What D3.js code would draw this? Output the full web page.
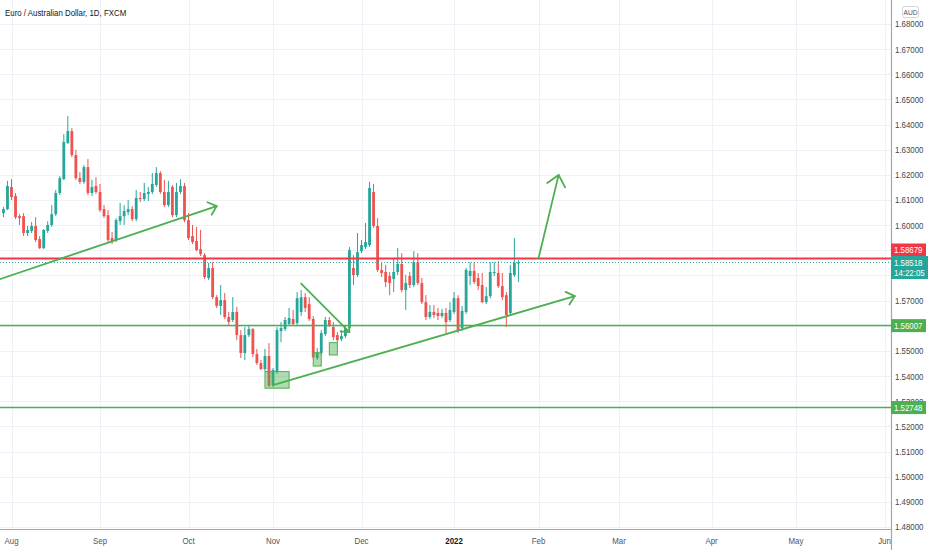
<!DOCTYPE html>
<html>
<head>
<meta charset="utf-8">
<style>
  body { margin: 0; background: #fff; }
  svg { display: block; font-family: "Liberation Sans", Arial, sans-serif; }
</style>
</head>
<body>
<script src="https://d3js.org/d3.v7.min.js"></script>
<script>
// daily EUR/AUD bars, one per weekday starting at firstBar
var firstBar = "2021-07-29";
var opens = [1.6048,1.6064,1.6152,1.6116,1.6036,1.6036,1.5969,1.5977,1.5997,1.5945,1.5909,1.5977,1.6001,1.6044,1.6128,1.6183,1.6327,1.6374,1.6279,1.6187,
  1.6172,1.6231,1.6128,1.6156,1.6132,1.6064,1.6040,1.5949,1.5941,1.6016,1.6036,1.6052,1.6064,1.6024,1.6108,1.6104,1.6124,1.6132,1.6160,1.6207,
  1.6132,1.6080,1.6152,1.6040,1.6132,1.6156,1.6020,1.5957,1.5937,1.5905,1.5881,1.5790,1.5830,1.5714,1.5679,1.5702,1.5635,1.5623,1.5655,1.5563,
  1.5492,1.5563,1.5587,1.5488,1.5452,1.5428,1.5480,1.5364,1.5416,1.5579,1.5587,1.5607,1.5627,1.5611,1.5655,1.5714,1.5686,1.5627,1.5472,1.5492,
  1.5567,1.5623,1.5595,1.5563,1.5547,1.5559,1.5591,1.5830,1.5802,1.5897,1.5913,1.5921,1.6132,1.5997,1.5822,1.5814,1.5798,1.5786,1.5814,1.5846,
  1.5742,1.5798,1.5762,1.5853,1.5770,1.5694,1.5635,1.5655,1.5651,1.5639,1.5651,1.5623,1.5655,1.5710,1.5591,1.5655,1.5798,1.5818,1.5790,1.5762,
  1.5694,1.5718,1.5810,1.5810,1.5758,1.5722,1.5651,1.5802,1.5850];
var highs = [1.6072,1.6176,1.6183,1.6128,1.6044,1.6048,1.5997,1.6013,1.6032,1.5957,1.5985,1.6016,1.6080,1.6140,1.6195,1.6362,1.6434,1.6386,1.6299,1.6211,
  1.6239,1.6263,1.6180,1.6191,1.6164,1.6080,1.6060,1.5973,1.6028,1.6088,1.6080,1.6100,1.6076,1.6140,1.6132,1.6168,1.6152,1.6207,1.6231,1.6215,
  1.6180,1.6176,1.6160,1.6168,1.6183,1.6168,1.6048,1.6001,1.5993,1.5981,1.5889,1.5850,1.5853,1.5722,1.5762,1.5730,1.5655,1.5714,1.5675,1.5583,
  1.5595,1.5599,1.5591,1.5508,1.5464,1.5508,1.5531,1.5432,1.5595,1.5615,1.5635,1.5671,1.5663,1.5734,1.5742,1.5730,1.5714,1.5639,1.5512,1.5583,
  1.5635,1.5635,1.5615,1.5575,1.5583,1.5603,1.5913,1.5881,1.5969,1.5941,1.6009,1.6172,1.6164,1.6028,1.5853,1.5842,1.5814,1.5869,1.5909,1.5889,
  1.5802,1.5814,1.5897,1.5889,1.5790,1.5722,1.5683,1.5683,1.5671,1.5667,1.5671,1.5694,1.5734,1.5722,1.5679,1.5830,1.5853,1.5853,1.5810,1.5810,
  1.5754,1.5853,1.5853,1.5857,1.5810,1.5734,1.5842,1.5949,1.5862];
var lows = [1.6032,1.6060,1.6100,1.6024,1.6001,1.5957,1.5957,1.5969,1.5933,1.5905,1.5905,1.5969,1.5993,1.6036,1.6120,1.6180,1.6323,1.6271,1.6180,1.6164,
  1.6164,1.6120,1.6116,1.6124,1.6052,1.6028,1.5933,1.5925,1.5933,1.6001,1.6001,1.6040,1.6016,1.6016,1.6092,1.6096,1.6096,1.6124,1.6152,1.6124,
  1.6072,1.6072,1.6032,1.6032,1.6124,1.6012,1.5941,1.5925,1.5897,1.5877,1.5786,1.5782,1.5706,1.5671,1.5643,1.5627,1.5603,1.5615,1.5543,1.5472,
  1.5464,1.5555,1.5476,1.5444,1.5424,1.5420,1.5357,1.5357,1.5408,1.5535,1.5579,1.5603,1.5599,1.5603,1.5639,1.5655,1.5619,1.5468,1.5464,1.5484,
  1.5559,1.5595,1.5543,1.5535,1.5539,1.5551,1.5579,1.5762,1.5794,1.5889,1.5905,1.5913,1.5989,1.5814,1.5794,1.5754,1.5722,1.5734,1.5802,1.5734,
  1.5663,1.5750,1.5754,1.5762,1.5686,1.5623,1.5627,1.5631,1.5623,1.5631,1.5571,1.5615,1.5647,1.5571,1.5579,1.5647,1.5762,1.5766,1.5742,1.5690,
  1.5686,1.5710,1.5798,1.5750,1.5702,1.5595,1.5643,1.5794,1.5774];
var closes = [1.6064,1.6156,1.6112,1.6032,1.6028,1.5969,1.5981,1.5997,1.5941,1.5909,1.5981,1.6001,1.6044,1.6128,1.6187,1.6331,1.6374,1.6279,1.6187,1.6172,
  1.6231,1.6128,1.6152,1.6132,1.6060,1.6036,1.5941,1.5937,1.6020,1.6036,1.6056,1.6064,1.6024,1.6108,1.6104,1.6128,1.6132,1.6164,1.6207,1.6132,
  1.6080,1.6132,1.6040,1.6132,1.6156,1.6020,1.5949,1.5933,1.5901,1.5885,1.5794,1.5830,1.5714,1.5679,1.5702,1.5635,1.5615,1.5655,1.5563,1.5492,
  1.5563,1.5587,1.5488,1.5452,1.5428,1.5480,1.5361,1.5424,1.5583,1.5591,1.5623,1.5631,1.5607,1.5710,1.5714,1.5671,1.5627,1.5476,1.5492,1.5571,
  1.5623,1.5603,1.5555,1.5543,1.5559,1.5591,1.5901,1.5802,1.5893,1.5921,1.5933,1.6148,1.5997,1.5822,1.5810,1.5774,1.5770,1.5814,1.5846,1.5742,
  1.5770,1.5762,1.5853,1.5770,1.5694,1.5635,1.5655,1.5643,1.5639,1.5651,1.5615,1.5663,1.5710,1.5583,1.5659,1.5822,1.5818,1.5774,1.5758,1.5694,
  1.5718,1.5814,1.5814,1.5758,1.5714,1.5643,1.5810,1.5850,1.58518];

// price ticks; the ones sitting under a price label are not drawn
var priceTicks = [1.48,1.49,1.50,1.51,1.52,1.53,1.54,1.55,1.56,1.57,1.58,1.59,1.60,1.61,1.62,1.63,1.64,1.65,1.66,1.67,1.68];
var coveredTicks = [1.56, 1.58, 1.59];
var monthStarts = ["2021-08-02","2021-09-01","2021-10-01","2021-11-01","2021-12-01","2022-01-03","2022-02-01","2022-03-01","2022-04-01","2022-05-02","2022-06-01"];
var monthLabels = ["Aug","Sep","Oct","Nov","Dec","2022","Feb","Mar","Apr","May","Jun"];

var title = "Euro / Australian Dollar, 1D, FXCM";
var redLevel = 1.58679;
var greenLevels = [1.56007, 1.52748];
var lastPrice = 1.58518;
var countdown = "14:22:05";

// drawings: [start date, start price, end date, end price, arrow size]
var trendLines = [
  ["2021-07-28", 1.5785, "2021-10-12", 1.6076, 10],
  ["2021-11-01", 1.5364, "2022-02-14", 1.5718, 10],
  ["2021-11-10", 1.5768, "2021-11-26", 1.5575, 9],
  ["2022-02-01", 1.5868, "2022-02-08", 1.6200, 14]
];
// boxes: [left date, right date, top price, bottom price]
var boxes = [
  ["2021-10-28", "2021-11-05", 1.5418, 1.5352],
  ["2021-11-15", "2021-11-17", 1.5493, 1.5440],
  ["2021-11-19", "2021-11-23", 1.5533, 1.5484]
];

var W = 932, H = 550, axisX = 891, axisY = 529;
var up = "#26a69a", down = "#ef5350", green = "#4caf50", red = "#f23645";

// trading-day calendar (weekdays)
var parse = d3.utcParse("%Y-%m-%d"), fmt = d3.utcFormat("%Y-%m-%d");
var days = d3.utcDay.range(parse("2021-07-19"), parse("2022-06-30"))
  .filter(d => d.getUTCDay() % 6 !== 0).map(fmt);
var pos = new Map(days.map((d, i) => [d, i]));
var x = d3.scaleLinear()
  .domain([pos.get("2021-08-02"), pos.get("2022-06-01")])
  .range([11.5, 884.5]);
var y = d3.scaleLinear().domain([1.48, 1.68]).range([527, 24]);
var xd = d => x(pos.get(d));

var startPos = pos.get(firstBar);
var bars = opens.map((o, k) => ({ i: startPos + k, o: o, h: highs[k], l: lows[k], c: closes[k] }));

var svg = d3.select("body").append("svg").attr("width", W).attr("height", H);
svg.append("rect").attr("width", W).attr("height", H).attr("fill", "#fff");
svg.append("clipPath").attr("id", "plot").append("rect").attr("width", axisX).attr("height", axisY);

function label(g, px, py, s, o) {
  o = o || {};
  return g.append("text")
    .attr("transform", "translate(" + px + "," + py + ") scale(0.83,1)")
    .attr("text-anchor", o.anchor || "start")
    .attr("font-size", o.size || 9.5)
    .attr("font-weight", o.weight || null)
    .attr("fill", o.color || "#131722")
    .text(s);
}

var plot = svg.append("g").attr("clip-path", "url(#plot)");

// grid
plot.selectAll(".hg").data(priceTicks).enter().append("line")
  .attr("x1", 0).attr("x2", axisX)
  .attr("y1", d => Math.round(y(d)) + 0.5).attr("y2", d => Math.round(y(d)) + 0.5)
  .attr("stroke", "#eef1f6").attr("stroke-width", 1);
plot.selectAll(".vg").data(monthStarts).enter().append("line")
  .attr("y1", 0).attr("y2", axisY)
  .attr("x1", d => Math.round(xd(d)) + 0.5).attr("x2", d => Math.round(xd(d)) + 0.5)
  .attr("stroke", "#eef1f6").attr("stroke-width", 1);

// candles
var cg = plot.append("g");
cg.selectAll(".wick").data(bars).enter().append("line")
  .attr("x1", d => x(d.i)).attr("x2", d => x(d.i))
  .attr("y1", d => y(d.h)).attr("y2", d => y(d.l))
  .attr("stroke", d => d.c >= d.o ? up : down).attr("stroke-width", 1);
cg.selectAll(".body").data(bars).enter().append("rect")
  .attr("x", d => x(d.i) - 1.4).attr("width", 2.8)
  .attr("y", d => y(Math.max(d.o, d.c)))
  .attr("height", d => Math.max(1, Math.abs(y(d.o) - y(d.c))))
  .attr("fill", d => d.c >= d.o ? up : down);

// boxes
plot.selectAll(".box").data(boxes).enter().append("rect")
  .attr("x", d => xd(d[0])).attr("width", d => xd(d[1]) - xd(d[0]))
  .attr("y", d => y(d[2])).attr("height", d => y(d[3]) - y(d[2]))
  .attr("fill", green).attr("fill-opacity", 0.45)
  .attr("stroke", green).attr("stroke-width", 1);

// horizontal levels
plot.append("line").attr("x1", 0).attr("x2", axisX)
  .attr("y1", y(lastPrice)).attr("y2", y(lastPrice))
  .attr("stroke", up).attr("stroke-width", 1).attr("stroke-dasharray", "1 2");
plot.append("line").attr("x1", 0).attr("x2", axisX)
  .attr("y1", y(redLevel)).attr("y2", y(redLevel))
  .attr("stroke", red).attr("stroke-width", 2);
plot.selectAll(".gl").data(greenLevels).enter().append("line")
  .attr("x1", 0).attr("x2", axisX)
  .attr("y1", d => y(d)).attr("y2", d => y(d))
  .attr("stroke", green).attr("stroke-width", 1.5);

// trend lines with open arrow heads
trendLines.forEach(t => {
  var x1 = xd(t[0]), y1 = y(t[1]), x2 = xd(t[2]), y2 = y(t[3]);
  var a = Math.atan2(y1 - y2, x1 - x2), s = t[4], sp = 0.72;
  var g = plot.append("g").attr("stroke", green).attr("stroke-width", 1.8)
    .attr("fill", "none").attr("stroke-linecap", "round").attr("stroke-linejoin", "round");
  g.append("line").attr("x1", x1).attr("y1", y1).attr("x2", x2).attr("y2", y2);
  g.append("path").attr("d", d3.line()([
    [x2 + s * Math.cos(a + sp), y2 + s * Math.sin(a + sp)],
    [x2, y2],
    [x2 + s * Math.cos(a - sp), y2 + s * Math.sin(a - sp)]
  ]));
});

// title
label(svg, 5, 16, title, { size: 9.5, color: "#131722" });

// axes frame
svg.append("line").attr("x1", axisX + 0.5).attr("x2", axisX + 0.5).attr("y1", 0).attr("y2", H)
  .attr("stroke", "#a3a6af").attr("stroke-width", 1.2);
svg.append("line").attr("x1", 0).attr("x2", axisX).attr("y1", axisY + 0.5).attr("y2", axisY + 0.5)
  .attr("stroke", "#a3a6af").attr("stroke-width", 1.2);

// price axis ticks
var pa = svg.append("g");
priceTicks.filter(p => coveredTicks.indexOf(p) < 0)
  .forEach(p => label(pa, 895, y(p) + 3.4, d3.format(".5f")(p), { size: 9.5, color: "#434651" }));

// time axis ticks
var ta = svg.append("g");
monthStarts.forEach((d, i) => label(ta, xd(d), 544, monthLabels[i], {
  anchor: "middle", size: 9.5,
  weight: monthLabels[i] === "2022" ? "bold" : null,
  color: monthLabels[i] === "2022" ? "#131722" : "#50535e"
}));

// currency badge
svg.append("rect").attr("x", 902.5).attr("y", 6.5).attr("width", 16).attr("height", 11).attr("rx", 2)
  .attr("fill", "#fff").attr("stroke", "#d1d4dc");
label(svg, 910.5, 15, "AUD", { anchor: "middle", size: 8, color: "#50535e" });

// price labels on axis
var lb = svg.append("g");
lb.append("rect").attr("x", axisX).attr("y", 243.5).attr("width", 35).attr("height", 12.5).attr("fill", red);
label(lb, 894, 253, d3.format(".5f")(redLevel), { color: "#fff" });
lb.append("rect").attr("x", axisX).attr("y", 256).attr("width", 37).attr("height", 23).attr("fill", up);
label(lb, 894, 265.5, d3.format(".5f")(lastPrice), { color: "#fff" });
label(lb, 894, 276, countdown, { color: "#fff" });
greenLevels.forEach(p => {
  lb.append("rect").attr("x", axisX).attr("y", y(p) - 6.5).attr("width", 35).attr("height", 13).attr("fill", green);
  label(lb, 894, y(p) + 3.4, d3.format(".5f")(p), { color: "#fff" });
});
</script>
</body>
</html>
